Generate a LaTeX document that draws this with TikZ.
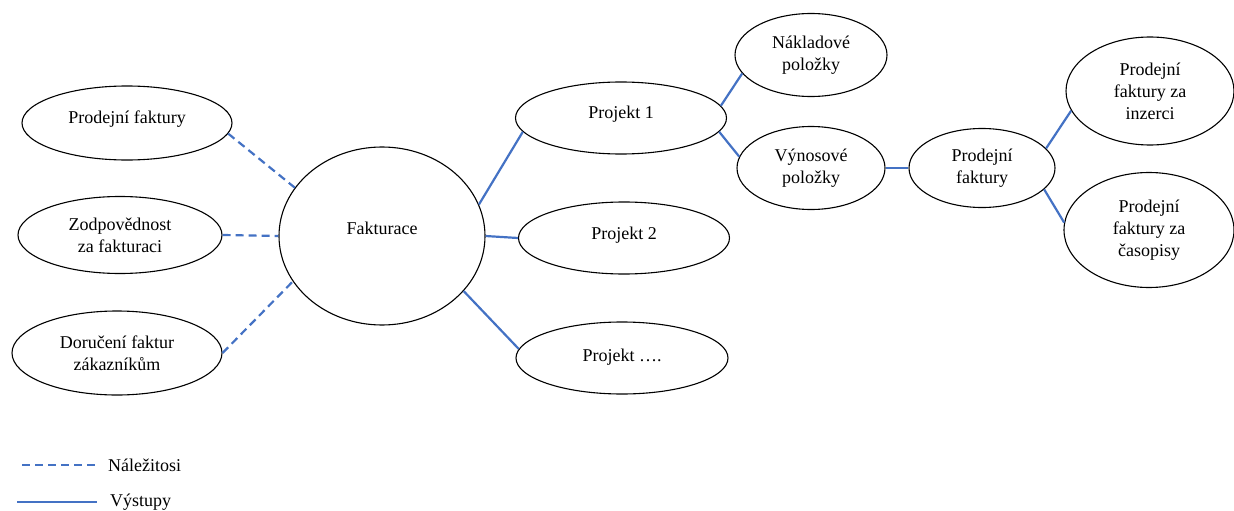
\documentclass[tikz,border=0pt]{standalone}
\usepackage{fontspec}
\setmainfont{Liberation Serif}[Ligatures=TeX]
\newfontfamily\diagserif{Liberation Serif}
\usetikzlibrary{shapes.geometric}
\definecolor{linkblue}{HTML}{4472C4}
\begin{document}
\begin{tikzpicture}[x=1pt,y=-1pt,
  bubble/.style={ellipse,draw=black,line width=1.1pt,inner sep=0pt,align=center,
    font=\diagserif\fontsize{18}{22}\selectfont},
  need/.style={draw=linkblue,line width=2.2pt,dash pattern=on 8pt off 5pt},
  output/.style={draw=linkblue,line width=2.2pt},
  legendtext/.style={anchor=west,inner sep=0pt,font=\diagserif\fontsize{18}{22}\selectfont}]
\useasboundingbox (0,0) rectangle (1234,511);

% left-hand inputs
\node[bubble,minimum width=210pt,minimum height=74pt] (pf)  at (127,123) {Prodejní faktury\\[-10pt]\mbox{}};
\node[bubble,minimum width=204pt,minimum height=77pt] (zod) at (120,235) {Zodpovědnost\\za fakturaci};
\node[bubble,minimum width=210pt,minimum height=84pt] (dor) at (117,353) {Doručení faktur\\zákazníkům};

% central node
\node[bubble,minimum width=206pt,minimum height=178pt] (fak) at (382,236) {Fakturace\\[-6pt]\mbox{}};

% projects
\node[bubble,minimum width=211pt,minimum height=72pt] (p1) at (621,118) {Projekt 1\\[-10pt]\mbox{}};
\node[bubble,minimum width=211pt,minimum height=72pt] (p2) at (624,238) {Projekt 2\\[-12pt]\mbox{}};
\node[bubble,minimum width=212pt,minimum height=72pt] (pn) at (622,358) {Projekt \dots.\\[-16pt]\mbox{}};

% items of project 1
\node[bubble,minimum width=152pt,minimum height=83pt] (nak) at (811,55)  {Nákladové\\položky};
\node[bubble,minimum width=148pt,minimum height=83pt] (vyn) at (811,168) {Výnosové\\položky};

% sales invoices
\node[bubble,minimum width=146pt,minimum height=79pt]  (prf) at (982,168)  {Prodejní\\faktury};
\node[bubble,minimum width=168pt,minimum height=108pt] (inz) at (1150,91)  {Prodejní\\faktury za\\inzerci};
\node[bubble,minimum width=170pt,minimum height=115pt] (cas) at (1149,230) {Prodejní\\faktury za\\časopisy};

% requirements
\draw[need] (pf.-6) -- (fak.151);
\draw[need] (zod.0) -- (fak.180);
\draw[need] (dor.0) -- (fak.207);

% outputs
\draw[output] (fak.18)  -- (p1.188);
\draw[output] (fak.0)   -- (p2.180);
\draw[output] (fak.-34) -- (pn.175);
\draw[output] (p1.7)    -- (nak.195);
\draw[output] (p1.-8)   -- (vyn.171);
\draw[output] (vyn.0)   -- (prf.180);
\draw[output] (prf.17)  -- (inz.194);
\draw[output] (prf.-19) -- (cas.175);

% legend
\coordinate (la) at (22,465);
\coordinate (lb) at (96,465);
\coordinate (lc) at (17,502);
\coordinate (ld) at (97,502);
\draw[need] (la) -- (lb);
\draw[output] (lc) -- (ld);
\node[legendtext] (lneed) at (108,465) {Náležitosi};
\node[legendtext] (lout)  at (110,502) {Výstupy};
\end{tikzpicture}
\end{document}
